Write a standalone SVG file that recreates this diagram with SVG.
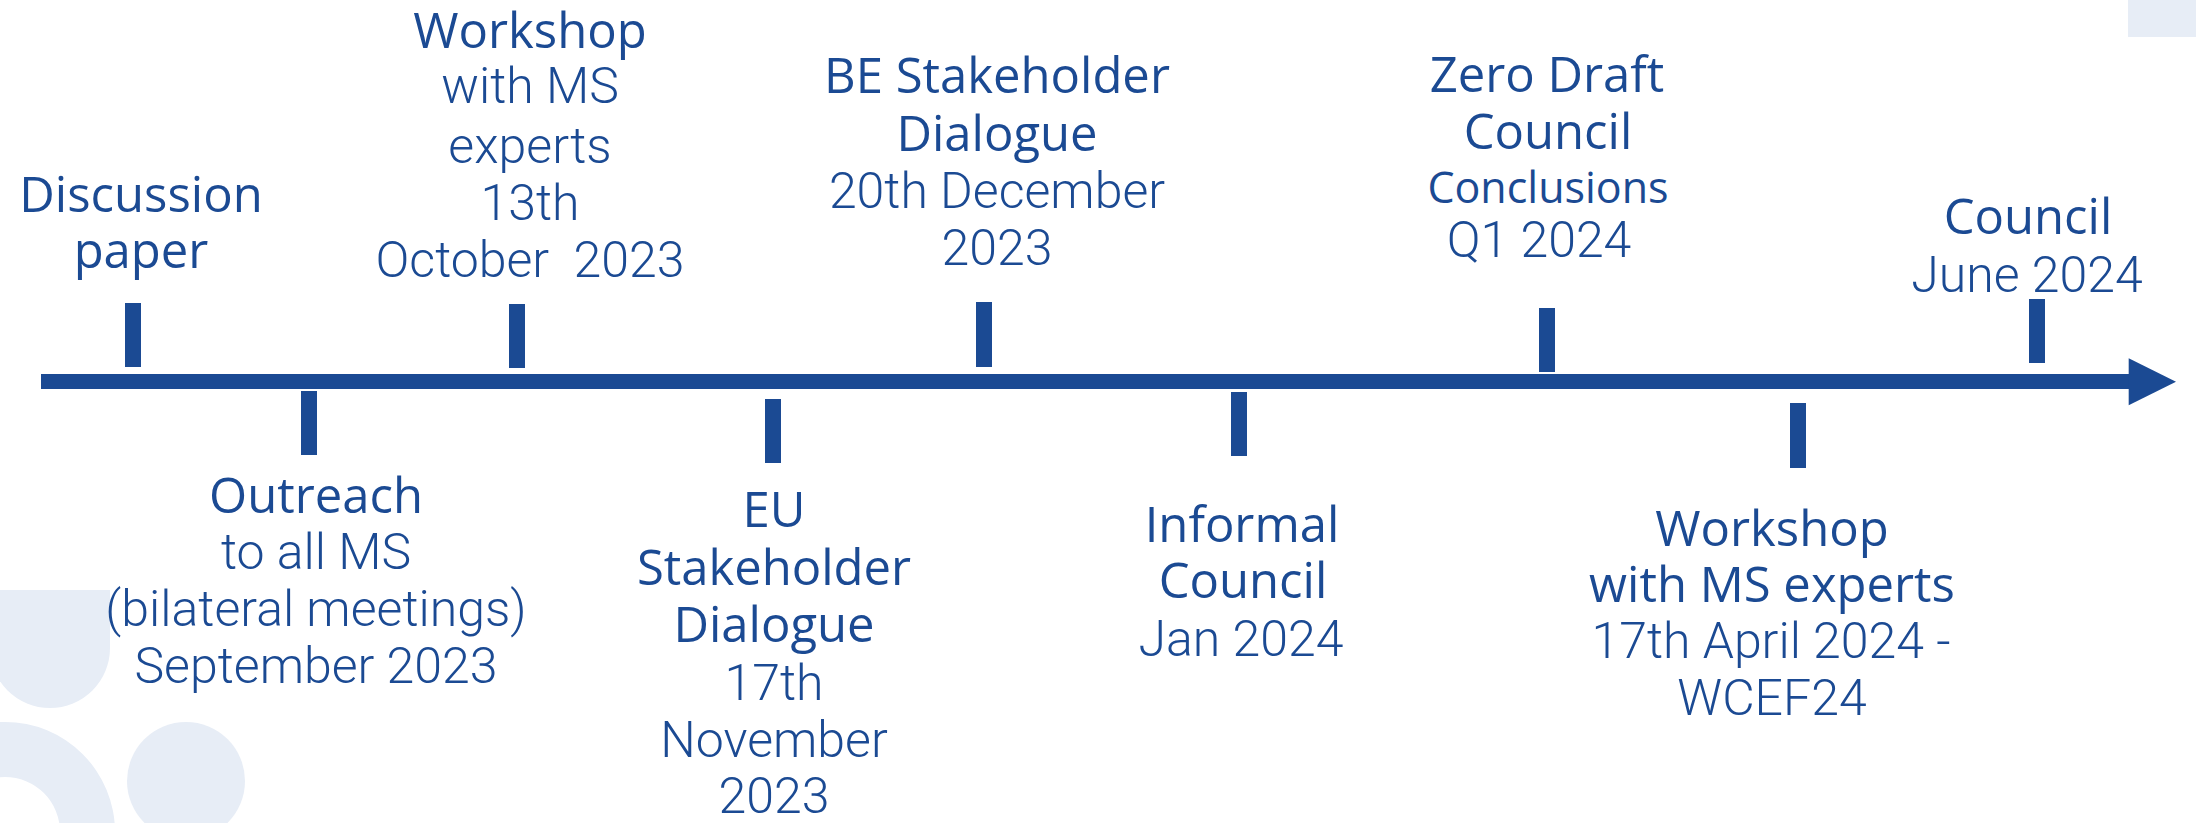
<svg xmlns="http://www.w3.org/2000/svg" width="2196" height="823" viewBox="0 0 2196 823">
<style>
  .bg { fill: #e7edf6; }
  .tick { fill: #1b4a93; }
  .h { font-family: "Open Sans", "Liberation Sans", sans-serif; font-size: 49px; font-weight: 500; fill: #1b4a93; text-anchor: middle; }
  .l { font-family: Roboto, "Open Sans", "Liberation Sans", sans-serif; font-size: 50px; font-weight: 300; fill: #1b4a93; text-anchor: middle; white-space: pre; }
  .s { font-size: 43px; }
</style>
<rect width="2196" height="823" fill="#ffffff"/>
<g id="background">
  <rect class="bg" x="2128" y="0" width="68" height="37"/>
  <path class="bg" d="M -10 590 H 110 V 648 A 60 60 0 0 1 -10 648 Z"/>
  <path class="bg" d="M -105 832 A 110 110 0 0 1 115 832 H 60 A 55 55 0 0 0 -50 832 Z"/>
  <circle class="bg" cx="186" cy="781" r="59"/>
</g>
<g id="connectors">
  <rect class="tick" x="41" y="374" width="2088" height="15"/>
  <polygon class="tick" points="2128.7,358.3 2176,381.7 2128.7,405.3"/>
</g>
<g id="node-discussion">
  <rect class="tick" x="125" y="303" width="16" height="64"/>
  <text class="h" x="141" y="212">Discussion</text>
  <text class="h" x="141" y="268">paper</text>
</g>
<g id="node-workshop1">
  <rect class="tick" x="509" y="304" width="16" height="64"/>
  <text class="h" x="530" y="48">Workshop</text>
  <text class="l" x="530" y="103">with MS</text>
  <text class="l" x="530" y="163">experts</text>
  <text class="l" x="530" y="220">13th</text>
  <text class="l" x="530" y="277">October  2023</text>
</g>
<g id="node-be">
  <rect class="tick" x="976" y="302" width="16" height="65"/>
  <text class="h" x="997" y="93">BE Stakeholder</text>
  <text class="h" x="997" y="151">Dialogue</text>
  <text class="l" x="997" y="208">20th December</text>
  <text class="l" x="997" y="265">2023</text>
</g>
<g id="node-zerodraft">
  <rect class="tick" x="1539" y="308" width="16" height="64"/>
  <text class="h" x="1547" y="92">Zero Draft</text>
  <text class="h" x="1548" y="149">Council</text>
  <text class="h s" x="1548" y="203">Conclusions</text>
  <text class="l" x="1539" y="257">Q1 2024</text>
</g>
<g id="node-council">
  <rect class="tick" x="2029" y="299" width="16" height="64"/>
  <text class="h" x="2028" y="234">Council</text>
  <text class="l" x="2027" y="292">June 2024</text>
</g>
<g id="node-outreach">
  <rect class="tick" x="301" y="391" width="16" height="64"/>
  <text class="h" x="316" y="513">Outreach</text>
  <text class="l" x="316" y="569">to all MS</text>
  <text class="l" x="316" y="626">(bilateral meetings)</text>
  <text class="l" x="316" y="683">September 2023</text>
</g>
<g id="node-eu">
  <rect class="tick" x="765" y="399" width="16" height="64"/>
  <text class="h" x="774" y="527">EU</text>
  <text class="h" x="774" y="585">Stakeholder</text>
  <text class="h" x="774" y="642">Dialogue</text>
  <text class="l" x="774" y="700">17th</text>
  <text class="l" x="774" y="757">November</text>
  <text class="l" x="774" y="813">2023</text>
</g>
<g id="node-informal">
  <rect class="tick" x="1231" y="392" width="16" height="64"/>
  <text class="h" x="1242" y="542">Informal</text>
  <text class="h" x="1243" y="598">Council</text>
  <text class="l" x="1241" y="656">Jan 2024</text>
</g>
<g id="node-workshop2">
  <rect class="tick" x="1790" y="403" width="16" height="65"/>
  <text class="h" x="1772" y="546">Workshop</text>
  <text class="h" x="1772" y="602">with MS experts</text>
  <text class="l" x="1771" y="658">17th April 2024 -</text>
  <text class="l" x="1772" y="715">WCEF24</text>
</g>
</svg>
